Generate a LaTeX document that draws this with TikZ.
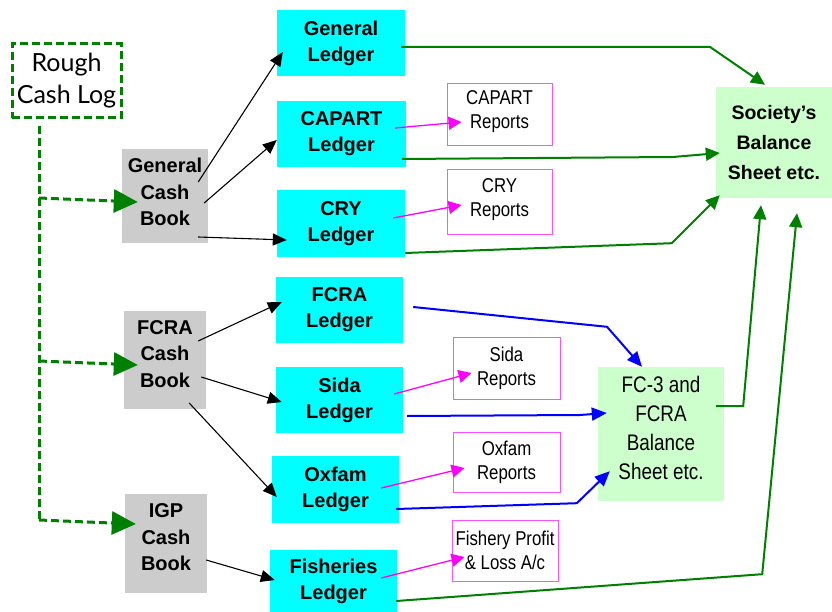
\documentclass[tikz,border=0pt]{standalone}
\usepackage{fontspec}
\setmainfont{Liberation Sans}
\newfontfamily\narrowfont[FakeStretch=0.84]{Liberation Sans}
\newfontfamily\roughfont{Lato}
\usetikzlibrary{arrows.meta,calc}
\definecolor{ggreen}{RGB}{0,128,0}
\definecolor{cbgray}{RGB}{204,204,204}
\definecolor{lcyan}{RGB}{0,255,255}
\definecolor{lgreen}{RGB}{204,255,204}
\definecolor{mag}{RGB}{255,0,255}
\definecolor{magbox}{RGB}{255,80,255}
\definecolor{bblue}{RGB}{0,0,255}
\begin{document}
\begin{tikzpicture}[x=1pt,y=-1pt,
  box/.style={inner sep=0pt, align=center, anchor=center},
  cashbox/.style={box, fill=cbgray},
  cashtext/.style={box, font=\fontsize{20}{26.5}\selectfont\bfseries},
  ledgerbox/.style={box, fill=lcyan, font=\fontsize{20}{26}\selectfont\bfseries},
  reportbox/.style={box, fill=white, draw=magbox, line width=1pt, font=\narrowfont\fontsize{20}{24}\selectfont},
  balbox/.style={box, fill=lgreen},
  roughbox/.style={box, draw=ggreen, line width=3pt, dash pattern=on 8pt off 4pt, font=\roughfont\fontsize{25}{32}\selectfont},
  blk/.style={black, line width=1.1pt, -{Triangle[length=14pt,width=12pt]}},
  mgt/.style={mag, line width=1.3pt, -{Triangle[length=13pt,width=13pt]}},
  grn/.style={ggreen, line width=2pt, -{Triangle[length=14pt,width=13pt]}},
  blu/.style={bblue, line width=2pt, -{Triangle[length=15pt,width=13pt]}},
  dgrn/.style={ggreen, line width=3pt, dash pattern=on 8pt off 4pt},
  dgrnarr/.style={dgrn, -{Triangle[length=24pt,width=23pt,sep=0pt]}},
]
\useasboundingbox (0,0) rectangle (832,612);

% Rough cash log
\node[roughbox, minimum width=109pt, minimum height=74pt] (rough) at (66.5,81) {Rough\\Cash Log};

% Cash books
\node[cashbox, minimum width=86pt, minimum height=94pt] (gcb) at (165,196) {};
\node[cashtext] (gcbt) at ($(gcb)+(0,-4)$) {General\\Cash\\Book};
\node[cashbox, minimum width=82pt, minimum height=98pt] (fcb) at (165,360) {};
\node[cashtext] (fcbt) at ($(fcb)+(0,-6)$) {FCRA\\Cash\\Book};
\node[cashbox, minimum width=82pt, minimum height=99pt] (icb) at (166,543.5) {};
\node[cashtext] (icbt) at ($(icb)+(0,-6)$) {IGP\\Cash\\Book};

% Ledgers
\node[ledgerbox, minimum width=128pt, minimum height=66pt] (gl) at (341,43) {General\\Ledger};
\node[ledgerbox, minimum width=129pt, minimum height=66pt] (cl) at (341.5,134) {CAPART\\Ledger};
\node[ledgerbox, minimum width=128pt, minimum height=67pt] (ryl) at (341,223.5) {CRY\\Ledger};
\node[ledgerbox, minimum width=127pt, minimum height=66pt] (fl) at (339.5,310) {FCRA\\Ledger};
\node[ledgerbox, minimum width=127pt, minimum height=66pt] (sl) at (339.5,400) {Sida\\Ledger};
\node[ledgerbox, minimum width=127pt, minimum height=67pt] (ol) at (335.5,489.5) {Oxfam\\Ledger};
\node[ledgerbox, minimum width=127pt, minimum height=62pt] (fil) at (333.5,581) {Fisheries\\Ledger};

% Reports
\node[reportbox, minimum width=105pt, minimum height=62pt] (cr) at (499.5,115) {};
\node[box, font=\narrowfont\fontsize{20}{24}\selectfont] (crt) at ($(cr)+(0,-3)$) {CAPART\\Reports};
\node[reportbox, minimum width=105pt, minimum height=65pt] (ryr) at (499.5,202.5) {};
\node[box, font=\narrowfont\fontsize{20}{24}\selectfont] (ryrt) at ($(ryr)+(0,-3)$) {CRY\\Reports};
\node[reportbox, minimum width=107pt, minimum height=62pt] (sr) at (506.5,368) {Sida\\Reports};
\node[reportbox, minimum width=107pt, minimum height=60pt] (or) at (506.5,462) {Oxfam\\Reports};
\node[reportbox, minimum width=106pt, minimum height=61pt] (fr) at (505,550.5) {Fishery Profit\\\& Loss A/c};

% Balance sheets
\node[balbox, minimum width=116pt, minimum height=111pt, font=\fontsize{19.5}{30}\selectfont\bfseries] (sbs) at (774,142.5) {Society’s\\Balance\\Sheet etc.};
\node[balbox, minimum width=126pt, minimum height=134pt] (fbs) at (661,434) {};
\node[box, font=\narrowfont\fontsize{22.5}{29}\selectfont] (fbst) at ($(fbs)+(0,-6)$) {FC-3 and\\FCRA\\Balance\\Sheet etc.};

% Dashed green from rough cash log
\coordinate (vtop) at ($(rough.south)+(-27.5,7)$);
\coordinate (vg) at (vtop |- 0,198);
\coordinate (vf) at (vtop |- 0,361);
\coordinate (vi) at (vtop |- 0,520);
\draw[dgrn] (vtop) -- (vi);
\draw[dgrnarr] (vg) -- ($(gcb.west)+(16,6)$);
\draw[dgrnarr] (vf) -- ($(fcb.west)+(14,5)$);
\draw[dgrnarr] (vi) -- ($(icb.west)+(11,-19.5)$);

% Black arrows
\draw[blk] ($(gcb.east)+(-10,-14)$) -- ($(gl.west)+(6,9)$);
\draw[blk] ($(gcb.east)+(-4,7)$) -- ($(cl.west)+(0,6)$);
\draw[blk] ($(gcb.east)+(-10,41)$) -- ($(ryl.west)+(10,16.5)$);
\draw[blk] ($(fcb.east)+(-8,-19)$) -- ($(fl.west)+(6,-8)$);
\draw[blk] ($(fcb.east)+(-5,17)$) -- ($(sl.west)+(6,2)$);
\draw[blk] ($(fcb.east)+(-17,43)$) -- ($(ol.west)+(5,7.5)$);
\draw[blk] ($(icb.east)+(-1,16.5)$) -- ($(fil.west)+(5,-1)$);

% Magenta arrows
\draw[mgt] ($(cl.east)+(-11,-6)$) -- ($(cr.west)+(15,7)$);
\draw[mgt] ($(ryl.east)+(-12,-5.5)$) -- ($(ryr.west)+(15,2.5)$);
\draw[mgt] ($(sl.east)+(-9,-6)$) -- ($(sr.west)+(19,5)$);
\draw[mgt] ($(ol.east)+(-18,-1.5)$) -- ($(or.west)+(12,6)$);
\draw[mgt] ($(fil.east)+(-16,-3)$) -- ($(fr.west)+(13,6.5)$);

% Green arrows to Society's balance sheet
\draw[grn] ($(gl.east)+(-4,4)$) -- ($(sbs.north west)+(-6,-40)$) -- ($(sbs.north)+(-9,-2)$);
\draw[grn] ($(cl.east)+(-4,25)$) -- ($(sbs.west)+(-43,14.5)$) -- ($(sbs.west)+(4,10.5)$);
\draw[grn] ($(ryl.east)+(0,29.5)$) -- ($(sbs.south west)+(-44,45)$) -- ($(sbs.south west)+(4,-3)$);
\draw[grn] ($(fbs.east)+(-8,-28)$) -- ($(fbs.east)+(19,-28)$) -- ($(sbs.south)+(-13,7)$);
\draw[grn] ($(fil.east)+(-1,20)$) -- ($(fbs.south east)+(38,73)$) -- ($(sbs.south)+(23,15)$);

% Blue arrows to FC-3
\draw[blu] ($(fl.east)+(10,-3)$) -- ($(fbs.north)+(-54,-40)$) -- ($(fbs.north)+(-19,0)$);
\draw[blu] ($(sl.east)+(4,16)$) -- ($(fbs.west)+(-18,-19)$) -- ($(fbs.west)+(9,-21)$);
\draw[blu] ($(ol.east)+(-3,19.5)$) -- ($(fbs.south west)+(-21,2)$) -- ($(fbs.south west)+(12,-30)$);
\end{tikzpicture}
\end{document}
